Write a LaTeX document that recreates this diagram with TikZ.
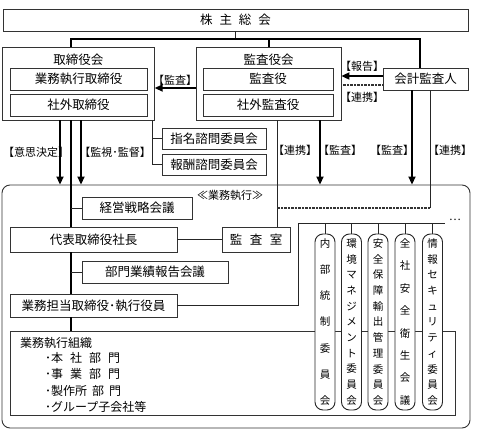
\documentclass[tikz,border=0pt]{standalone}
\usepackage{fontspec}
\setmainfont{Noto Sans CJK JP}
\usetikzlibrary{arrows.meta}
\newcommand\LB{\kern-.35em【}
\newcommand\RB{】\kern-.35em}
\begin{document}
\begin{tikzpicture}[x=1pt,y=-1pt,
  box/.style={draw=black!80,line width=0.8pt,fill=white,inner sep=0pt,font=\fontsize{12.5}{14}\selectfont},
  lab/.style={inner sep=0pt,font=\fontsize{11}{13}\selectfont},
  ln/.style={draw=black!85,line width=0.8pt},
  thk/.style={draw=black,line width=1.8pt},
  arr/.style={thk,-{Triangle[width=7pt,length=8pt]}},
  dotln/.style={draw=black!80,line width=1.1pt,dash pattern=on 0.8pt off 0.6pt},
  pill/.style={draw=black!85,line width=0.9pt,fill=white,rounded corners=8pt,minimum width=20pt,minimum height=176pt,inner sep=0pt,align=center},
]
\useasboundingbox (0,0) rectangle (480,434);
\fill[white] (0,0) rectangle (480,434);

% execution area
\node[draw=black!80,line width=0.9pt,rounded corners=8pt,minimum width=468pt,minimum height=243pt,inner sep=0pt] (exec) at (236,306.5) {};

% top
\node[box,minimum width=465pt,minimum height=22pt] (kabu) at (235.5,20) {株\hspace{.55em}主\hspace{.55em}総\hspace{.55em}会};

\node[box,minimum width=152pt,minimum height=73pt] (tori) at (78.3,83.5) {};
\node[lab,font=\fontsize{12.5}{14}\selectfont] (toriT) at (78.3,59.5) {取締役会};
\node[box,minimum width=137pt,minimum height=22pt] (tgyo) at (78.5,79) {業務執行取締役};
\node[box,minimum width=137pt,minimum height=22pt] (tsha) at (78.5,105) {社外取締役};

\node[box,minimum width=145pt,minimum height=73pt] (kk) at (268.5,83.5) {};
\node[lab,font=\fontsize{12.5}{14}\selectfont] (kkT) at (268.5,59.5) {監査役会};
\node[box,minimum width=130pt,minimum height=22pt] (kyaku) at (268,79) {監査役};
\node[box,minimum width=130pt,minimum height=22pt] (ksha) at (268,105) {社外監査役};

\node[box,minimum width=85pt,minimum height=22pt] (kaikei) at (425.5,79) {会計監査人};

% top connectors
\coordinate (jA) at (70.7,39);
\coordinate (jB) at (269,39);
\coordinate (jC) at (420,39);
\draw[ln] (kabu.south) -- (kabu.south |- jA);
\draw[thk] (jA |- tori.north) -- (jA) -- (jC) -- (jC |- kaikei.north);
\draw[thk] (jB) -- (jB |- kk.north);

% horizontal arrows
\coordinate (y88) at (0,88);
\coordinate (y76) at (0,76);
\coordinate (y85) at (0,85);
\draw[arr] (kk.west |- y88) -- (tori.east |- y88);
\draw[arr] (kaikei.west |- y76) -- (kk.east |- y76);
\draw[dotln] (kaikei.west |- y85) -- (kk.east |- y85);
\node[lab] (lKansa1) at (175,80) {\LB 監査\RB};
\node[lab] (lHoukoku) at (362,66) {\LB 報告\RB};
\node[lab] (lRenkei1) at (362,97) {\LB 連携\RB};

% committees
\node[box,minimum width=104pt,minimum height=21pt] (shimei) at (214,138.5) {指名諮問委員会};
\node[box,minimum width=104pt,minimum height=21pt] (houshu) at (214,164.5) {報酬諮問委員会};
\coordinate (x152) at (152,0);
\draw[ln] (tori.south -| x152) -- (x152 |- houshu.west) -- (houshu.west);
\draw[ln] (x152 |- shimei.west) -- (shimei.west);

% execution contents
\node[lab] (lExec) at (230,195) {≪業務執行≫};
\node[box,minimum width=110pt,minimum height=22pt] (keiei) at (137,208) {経営戦略会議};
\node[box,minimum width=167pt,minimum height=25pt] (daihyo) at (93.5,239.5) {代表取締役社長};
\node[box,minimum width=68pt,minimum height=25pt] (kanshitsu) at (256,239.5) {監\hspace{.6em}査\hspace{.6em}室};
\node[box,minimum width=146pt,minimum height=22pt] (bumon) at (155,272) {部門業績報告会議};
\node[box,minimum width=167pt,minimum height=23pt] (tantou) at (93.5,305.5) {業務担当取締役･執行役員};
\node[box,minimum width=445pt,minimum height=84pt] (soshiki) at (232.5,373) {};
\node[lab,font=\fontsize{12}{14}\selectfont,anchor=west] (sT) at (20,343) {業務執行組織};
\node[lab,font=\fontsize{12}{14}\selectfont,anchor=west] (s1) at (45,357.5) {･本\hspace{7pt}社\hspace{7pt}部\hspace{7pt}門};
\node[lab,font=\fontsize{12}{14}\selectfont,anchor=west] (s2) at (45,374) {･事\hspace{7pt}業\hspace{7pt}部\hspace{7pt}門};
\node[lab,font=\fontsize{12}{14}\selectfont,anchor=west] (s3) at (45,390.5) {･製作所\hspace{5pt}部\hspace{5pt}門};
\node[lab,font=\fontsize{12}{14}\selectfont,anchor=west] (s4) at (45,407) {･グループ子会社等};

% vertical connectors from boards
\coordinate (x60) at (60,0);
\coordinate (x81) at (81,0);
\draw[arr] (tori.south -| x60) -- (exec.north -| x60);
\draw[arr] (tori.south -| x81) -- (exec.north -| x81);
\draw[thk] (tori.south -| jA) -- (daihyo.north -| jA);
\draw[thk] (daihyo.south -| jA) -- (tantou.north -| jA);
\draw[thk] (tantou.south -| jA) -- (soshiki.north -| jA);
\draw[ln] (keiei.west) -- (keiei.west -| jA);
\draw[ln] (bumon.west) -- (bumon.west -| jA);
\draw[ln] (daihyo.east) -- (kanshitsu.west);
\node[lab,anchor=west] (lIshi) at (3,152) {【意思決定\RB};
\node[lab] (lKanshi) at (115,152) {\LB 監視･監督\RB};

\coordinate (x277) at (277,0);
\coordinate (x320) at (320,0);
\coordinate (x412) at (412,0);
\coordinate (c430) at (430,208);
\draw[ln] (kk.south -| x277) -- (kanshitsu.north -| x277);
\draw[arr] (kk.south -| x320) -- (exec.north -| x320);
\draw[arr] (kaikei.south -| x412) -- (exec.north -| x412);
\draw[ln] (kaikei.south -| c430) -- (c430);
\draw[dotln] (c430) -- (x277 |- c430);
\node[lab] (lRenkei2) at (295,150) {\LB 連携\RB};
\node[lab] (lKansa2) at (340,150) {\LB 監査\RB};
\node[lab] (lKansa3) at (392,150) {\LB 監査\RB};
\node[lab] (lRenkei3) at (450,150) {\LB 連携\RB};

% committees (pills)
\node[pill,font=\fontsize{10.5}{26.2}\selectfont] (p1) at (325,322) {内\\部\\統\\制\\委\\員\\会};
\node[pill,font=\fontsize{10.5}{15.7}\selectfont] (p2) at (351.5,322) {環\\境\\マ\\ネ\\ジ\\メ\\ン\\ト\\委\\員\\会};
\node[pill,font=\fontsize{10.5}{15.7}\selectfont] (p3) at (378,322) {安\\全\\保\\障\\輸\\出\\管\\理\\委\\員\\会};
\node[pill,font=\fontsize{10.5}{22.4}\selectfont] (p4) at (405,322) {全\\社\\安\\全\\衛\\生\\会\\議};
\node[pill,font=\fontsize{10.5}{15.7}\selectfont] (p5) at (432.5,322) {情\\報\\セ\\キ\\ュ\\リ\\テ\\ィ\\委\\員\\会};

\coordinate (b1) at (298,223);
\coordinate (b2) at (445,223);
\draw[ln] (tantou.east) -- (b1 |- tantou.east) -- (b1) -- (b2);
\foreach \p in {p1,p2,p3,p4,p5}{\draw[ln] (\p.north |- b1) -- (\p.north);}
\node[lab] (dots) at (455,220) {…};
\end{tikzpicture}
\end{document}
